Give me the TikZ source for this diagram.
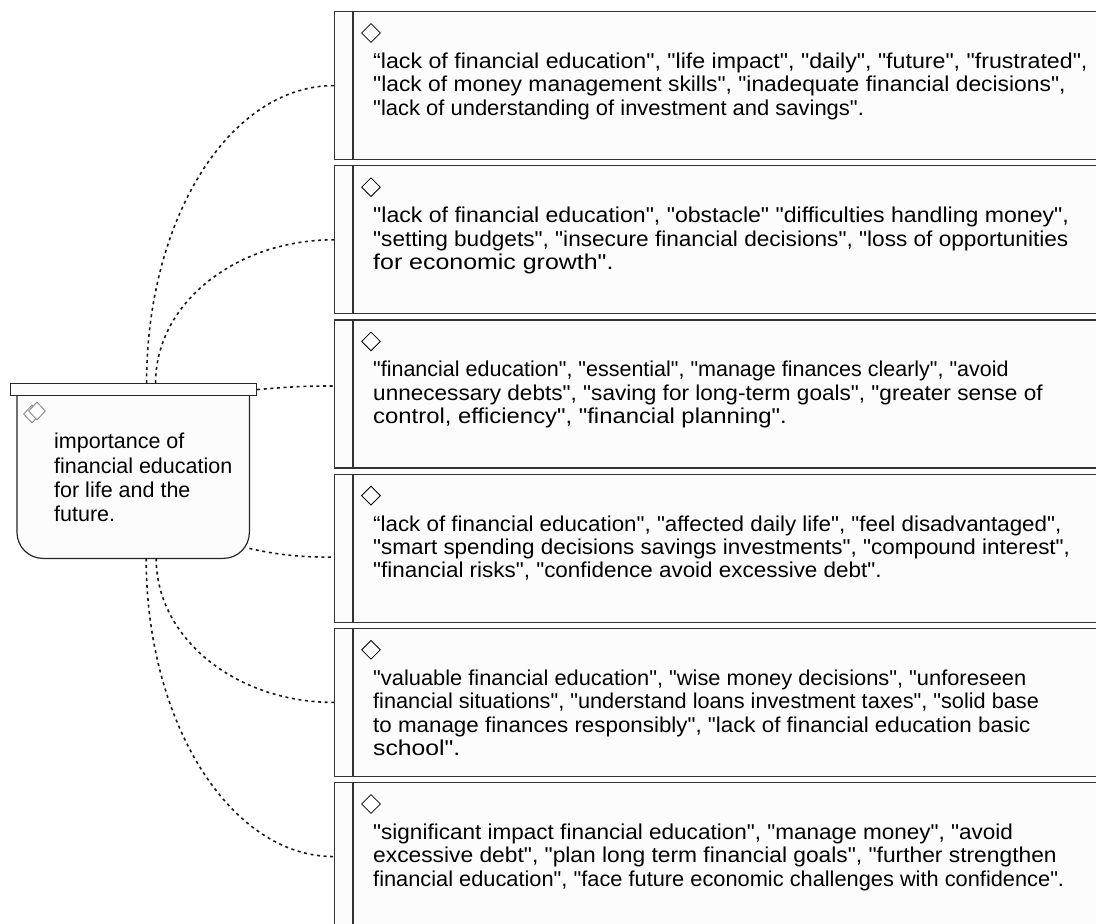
\documentclass[tikz,border=0pt]{standalone}
\usepackage{graphicx}
\usepackage{fontspec}
\setmainfont{Liberation Sans}[Ligatures=TeXOff]
\usetikzlibrary{shapes.geometric,positioning}
\newcommand{\widen}[2]{\scalebox{#1}[1]{#2}}

\begin{document}
\begin{tikzpicture}[x=1pt, y=-1pt,
    card/.style={draw=black!80, line width=1.2pt, fill=black!1, minimum width=780pt,
        minimum height=148pt, anchor=north west, inner sep=0pt},
    words/.style={anchor=north west, align=left, inner sep=0pt,
        font=\fontsize{21.5}{23.4}\selectfont},
    gem/.style={draw=black, diamond, minimum width=19pt, minimum height=19pt,
        inner sep=0pt, line width=0.8pt, fill=white},
    link/.style={draw=black!90, line width=1.6pt, dash pattern=on 3pt off 3.6pt}]
    \useasboundingbox (0,0) rectangle (1096,924);
    \clip (0,0) rectangle (1096,924);

    % central topic
    \node[minimum width=232pt, minimum height=163pt, anchor=north west, inner sep=0pt]
        (topic) at (17,395) {};
    \draw[draw=black!85, line width=1.2pt, fill=black!1, rounded corners=26pt]
        (topic.north west) -- (topic.south west) -- (topic.south east) -- (topic.north east);
    \node[draw=black!85, line width=1.2pt, fill=black!1, minimum width=246pt,
        minimum height=12pt, anchor=north west, inner sep=0pt] (topicbar) at (10,383) {};
    \node[gem, draw=black!50, minimum width=17pt, minimum height=18pt, fill=none]
        (topicgemb) at (32,414) {};
    \node[gem, draw=black!50, minimum width=17pt, minimum height=18pt]
        (topicgem) at (37,411) {};
    \node[words, font=\fontsize{21.5}{24.4}\selectfont] (topictext) at (54,433)
        {importance of\\financial education\\for life and the\\future.};

    % answer boxes
    \foreach \i in {1,...,6} {
        \node[card] (b\i) at (334,{11+(\i-1)*154.2}) {};
        \draw[black!80, line width=1.2pt] ([xshift=19pt]b\i.north west)
            -- ([xshift=19pt]b\i.south west);
        \node[gem] (g\i) at ([xshift=37pt,yshift=-22pt]b\i.north west) {};
    }

    \node[words] (t1) at ([xshift=39pt,yshift=-41.8pt]b1.north west)
        {\widen{1.078}{“lack of financial education", "life impact", "daily", "future", "frustrated",}\\
        \widen{1.062}{"lack of money management skills", "inadequate financial decisions",}\\
        \widen{1.022}{"lack of understanding of investment and savings".}};
    \node[words] (t2) at ([xshift=39pt,yshift=-41.8pt]b2.north west)
        {\widen{1.074}{"lack of financial education", "obstacle" "difficulties handling money",}\\
        \widen{1.052}{"setting budgets", "insecure financial decisions", "loss of opportunities}\\
        \widen{1.16}{for economic growth".}};
    \node[words] (t3) at ([xshift=39pt,yshift=-41.8pt]b3.north west)
        {"financial education", "essential", "manage finances clearly", "avoid\\
        \widen{1.05}{unnecessary debts", "saving for long-term goals", "greater sense of}\\
        \widen{1.11}{control, efficiency", "financial planning".}};
    \node[words] (t4) at ([xshift=39pt,yshift=-41.8pt]b4.north west)
        {\widen{1.04}{“lack of financial education", "affected daily life", "feel disadvantaged",}\\
        \widen{1.044}{"smart spending decisions savings investments", "compound interest",}\\
        \widen{1.044}{"financial risks", "confidence avoid excessive debt".}};
    \node[words] (t5) at ([xshift=39pt,yshift=-41.8pt]b5.north west)
        {\widen{1.016}{"valuable financial education", "wise money decisions", "unforeseen}\\
        \widen{1.01}{financial situations", "understand loans investment taxes", "solid base}\\
        \widen{1.04}{to manage finances responsibly", "lack of financial education basic}\\
        \widen{1.15}{school".}};
    \node[words] (t6) at ([xshift=39pt,yshift=-41.8pt]b6.north west)
        {\widen{1.048}{"significant impact financial education", "manage money", "avoid}\\
        \widen{1.06}{excessive debt", "plan long term financial goals", "further strengthen}\\
        \widen{1.014}{financial education", "face future economic challenges with confidence".}};

    % links
    \draw[link] ([xshift=13pt]topicbar.north) .. controls +(0,-165) and +(-104,0) .. (b1.west);
    \draw[link] ([xshift=22pt]topicbar.north) .. controls +(0,-80) and +(-98,0) .. (b2.west);
    \draw[link] (topicbar.east) .. controls +(35,-3) and +(-30,0) .. ([yshift=8pt]b3.west);
    \draw[link] ([yshift=10pt]topic.south east) .. controls +(30,7) and +(-30,0)
        .. ([yshift=-9pt]b4.west);
    \draw[link] ([xshift=23pt]topic.south) .. controls +(0,80) and +(-98,0) .. (b5.west);
    \draw[link] ([xshift=13pt]topic.south) .. controls +(0,164) and +(-104,0) .. (b6.west);

\end{tikzpicture}
\end{document}
